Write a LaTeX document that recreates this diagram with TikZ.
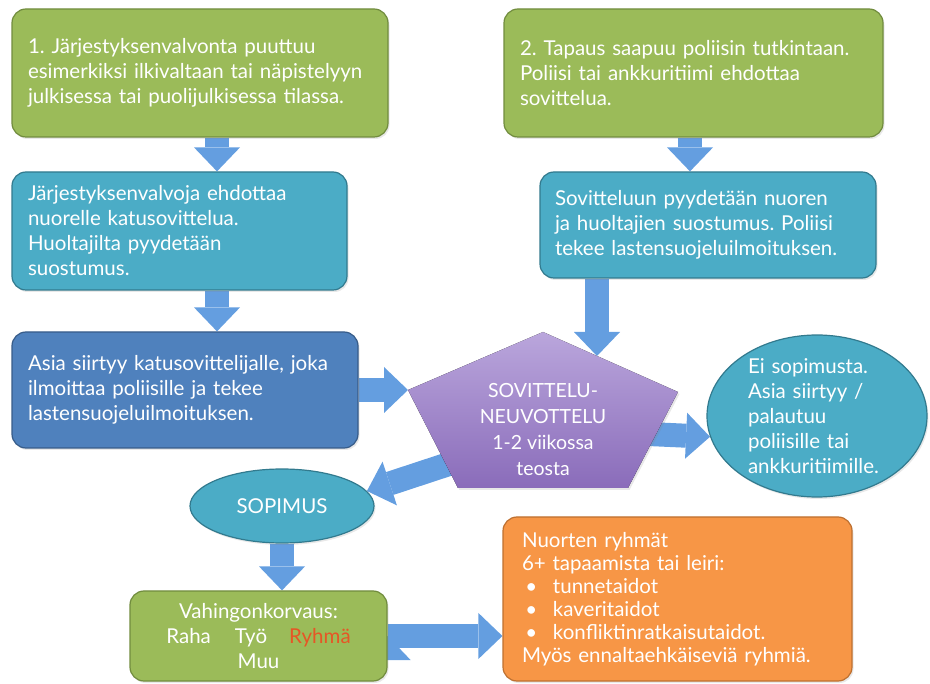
\documentclass[tikz,border=0pt]{standalone}
\usepackage{fontspec}
\setmainfont{Lato}
\usetikzlibrary{arrows.meta,shapes.geometric,backgrounds,shadows,calc}
\definecolor{boxgreen}{RGB}{155,187,89}
\definecolor{boxgreenD}{RGB}{113,140,62}
\definecolor{boxteal}{RGB}{75,172,198}
\definecolor{boxtealD}{RGB}{50,122,142}
\definecolor{boxblue}{RGB}{79,129,189}
\definecolor{boxblueD}{RGB}{55,92,137}
\definecolor{boxorange}{RGB}{247,150,70}
\definecolor{boxorangeD}{RGB}{190,112,48}
\definecolor{pentaT}{RGB}{186,166,220}
\definecolor{pentaB}{RGB}{138,108,186}
\definecolor{arrowblue}{RGB}{100,158,224}
\definecolor{ryhma}{RGB}{230,86,38}
\frenchspacing

\begin{document}
\begin{tikzpicture}[x=1pt,y=-1pt,
	every node/.style={text=white,font=\fontsize{20.5}{25}\selectfont},
	box/.style={rectangle,rounded corners=14pt,line width=1.2pt,inner sep=0pt,inner xsep=16pt,align=left,
		drop shadow={opacity=0.18,shadow xshift=1.5pt,shadow yshift=-2pt}},
	green box/.style={box,fill=boxgreen,draw=boxgreenD},
	teal box/.style={box,fill=boxteal,draw=boxtealD},
	blue box/.style={box,fill=boxblue,draw=boxblueD},
	orange box/.style={box,fill=boxorange,draw=boxorangeD},
	teal oval/.style={ellipse,fill=boxteal,draw=boxtealD,line width=1.2pt,inner sep=0pt,
		drop shadow={opacity=0.18,shadow xshift=1.5pt,shadow yshift=-2pt}},
	block arrow/.style={draw,color=arrowblue,line width=24pt,
		-{Triangle[length=24pt,width=46pt,line width=0pt,color=arrowblue,fill=arrowblue]}}]
	\useasboundingbox (0,0) rectangle (930,684);

	\node[green box,text width=344pt,minimum height=128pt] (valvonta) at (200,73)
		{1. Järjestyksenvalvonta puuttuu\\esimerkiksi ilkivaltaan tai näpistelyyn\\julkisessa tai puolijulkisessa tilassa.};
	\node[teal box,text width=303pt,minimum height=118pt] (ehdotus) at (179.5,231)
		{Järjestyksenvalvoja ehdottaa\\nuorelle katusovittelua.\\Huoltajilta pyydetään\\suostumus.};
	\node[blue box,text width=314pt,minimum height=116pt] (siirto) at (185,390)
		{Asia siirtyy katusovittelijalle, joka\\ilmoittaa poliisille ja tekee\\lastensuojeluilmoituksen.};

	\node[green box,text width=347pt,minimum height=128pt] (poliisi) at (693.5,73)
		{2. Tapaus saapuu poliisin tutkintaan.\\Poliisi tai ankkuritiimi ehdottaa\\sovittelua.};
	\node[teal box,text width=306pt,inner xsep=15pt,minimum height=106pt] (suostumus) at (708,225)
		{Sovitteluun pyydetään nuoren\\ja huoltajien suostumus. Poliisi\\tekee lastensuojeluilmoituksen.};

	\coordinate (pA) at (543,332);
	\coordinate (pR) at (678,392);
	\coordinate (pBR) at (628,488);
	\coordinate (pBL) at (458,488);
	\coordinate (pL) at (408,390);
	\coordinate (pTop) at ($(pA)!0.4!(pR)$);
	\coordinate (pOut) at (648,434);
	\coordinate (pIn) at (458,461);
	\fill[top color=pentaT,bottom color=pentaB,
		drop shadow={opacity=0.18,shadow xshift=1.5pt,shadow yshift=-2pt}]
		(pA) -- (pR) -- (pBR) -- (pBL) -- (pL) -- cycle;
	\node[align=center,font=\fontsize{19.5}{26}\selectfont] (neuvo) at (543,430)
		{SOVITTELU-\\NEUVOTTELU\\1-2 viikossa\\teosta};

	\node[teal oval,minimum width=220pt,minimum height=162pt,
		label={[align=left,text width=138pt]center:Ei sopimusta.\\Asia siirtyy /\\palautuu\\poliisille tai\\ankkuritiimille.}] (eisop) at (817,416) {};
	\node[teal oval,minimum width=184pt,minimum height=74pt] (sopimus) at (282,506) {SOPIMUS};

	\node[green box,align=center,inner xsep=0pt,minimum width=257pt,minimum height=90pt] (korvaus) at (258.5,636)
		{Vahingonkorvaus:\\Raha\hspace{24pt}Työ\hspace{22pt}\textcolor{ryhma}{Ryhmä}\\Muu};
	\node[orange box,text width=311pt,inner xsep=19pt,minimum height=164pt,
		font=\fontsize{20.5}{23}\selectfont] (ryhmat) at (677.5,599)
		{Nuorten ryhmät\\6+ tapaamista tai leiri:\\
		\makebox[31pt][l]{\,\textbullet}tunnetaidot\\
		\makebox[31pt][l]{\,\textbullet}kaveritaidot\\
		\makebox[31pt][l]{\,\textbullet}konfliktinratkaisutaidot.\\
		Myös ennaltaehkäiseviä ryhmiä.};

	\begin{scope}[on background layer]
		\path[block arrow]
		([xshift=17pt]valvonta.south) edge ([xshift=17pt]valvonta.south |- ehdotus.north)
		([xshift=37.5pt]ehdotus.south) edge ([xshift=37.5pt]ehdotus.south |- siirto.north)
		([xshift=-3.5pt]poliisi.south) edge ([xshift=-3.5pt]poliisi.south |- suostumus.north)
		(suostumus.south -| pTop) edge (pTop)
		(siirto.east) edge (pL)
		(pOut) edge (eisop.191)
		(pIn) edge (sopimus.10)
		(sopimus.south) edge (sopimus.south |- korvaus.north)
		(korvaus.east) edge (korvaus.east -| ryhmat.west);
	\end{scope}
\end{tikzpicture}
\end{document}
